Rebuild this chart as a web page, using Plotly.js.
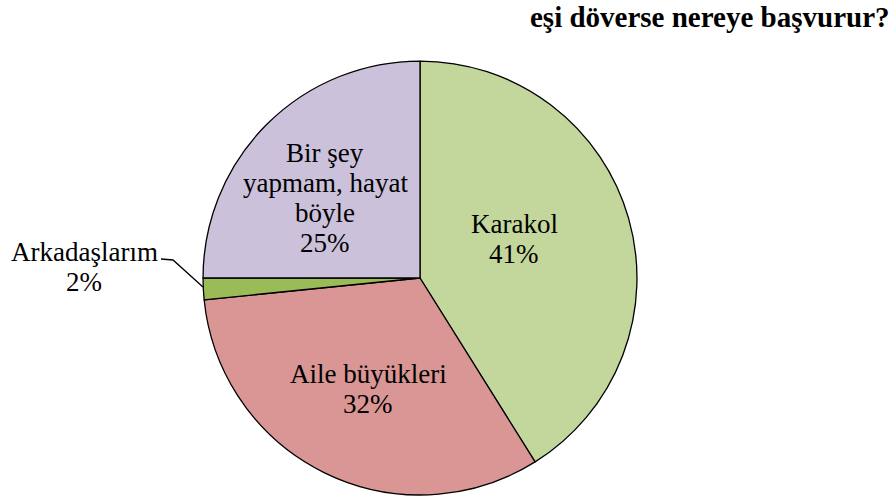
<!DOCTYPE html>
<html>
<head>
<meta charset="utf-8">
<script src="https://cdn.plot.ly/plotly-3.0.1.min.js"></script>
<style>body{margin:0;padding:0;background:#fff;} #chart{width:896px;height:500px;}</style>
</head>
<body>
<div id="chart"></div>
<script>
const labels = ["Karakol", "Aile büyükleri", "Arkadaşlarım", "Bir şey yapmam, hayat böyle"];
const labelLines = [["Karakol"], ["Aile büyükleri"], ["Arkadaşlarım"], ["Bir şey", "yapmam, hayat", "böyle"]];
const values = [41.1, 32.3, 1.6, 25.0];
const colors = ["#C3D69B", "#D99694", "#9BBB59", "#CCC1DA"];
const titleText = "eşi döverse nereye başvurur?";

const serif = "Liberation Serif";
const W = 896, H = 500;

// label text block positions (pixel centre of first line), one per slice
const labelPos = [[514, 224], [368, 374], [84, 252], [325, 153]];
const lineStep = 30;

const trace = {
  type: "pie",
  labels: labels,
  values: values,
  sort: false,
  direction: "clockwise",
  rotation: 0,
  marker: {colors: colors, line: {color: "#000000", width: 1.3}},
  textinfo: "none",
  hoverinfo: "label+percent",
  showlegend: false,
  domain: {x: [0.2266, 0.7109], y: [0.01, 0.878]}
};

const total = values.reduce((a, b) => a + b, 0);
const pct = v => Math.round(100 * v / total) + "%";

const annotations = [
  {text: "<b>" + titleText + "</b>", xref: "paper", yref: "paper", x: 0.995, y: 1 - 17 / H,
   xanchor: "right", yanchor: "middle", showarrow: false,
   font: {family: serif, size: 29, color: "#000000"}}
];
labelLines.forEach((lines, i) => {
  const all = lines.concat([pct(values[i])]);
  all.forEach((t, j) => {
    annotations.push({
      text: t, xref: "paper", yref: "paper",
      x: labelPos[i][0] / W, y: 1 - (labelPos[i][1] + j * lineStep) / H,
      xanchor: "center", yanchor: "middle", showarrow: false,
      font: {family: serif, size: 27, color: "#000000"}
    });
  });
});

const layout = {
  width: W,
  height: H,
  margin: {l: 0, r: 0, t: 0, b: 0},
  paper_bgcolor: "#ffffff",
  font: {family: serif, color: "#000000"},
  showlegend: false,
  annotations: annotations,
  shapes: [
    {type: "path", xref: "paper", yref: "paper",
     path: "M " + (161 / W) + " " + (1 - 259 / H) + " L " + (173 / W) + " " + (1 - 260 / H) + " L " + (203 / W) + " " + (1 - 287 / H),
     line: {color: "#000000", width: 1.3}}
  ]
};

Plotly.newPlot("chart", [trace], layout, {displayModeBar: false, staticPlot: true});
</script>
</body>
</html>
